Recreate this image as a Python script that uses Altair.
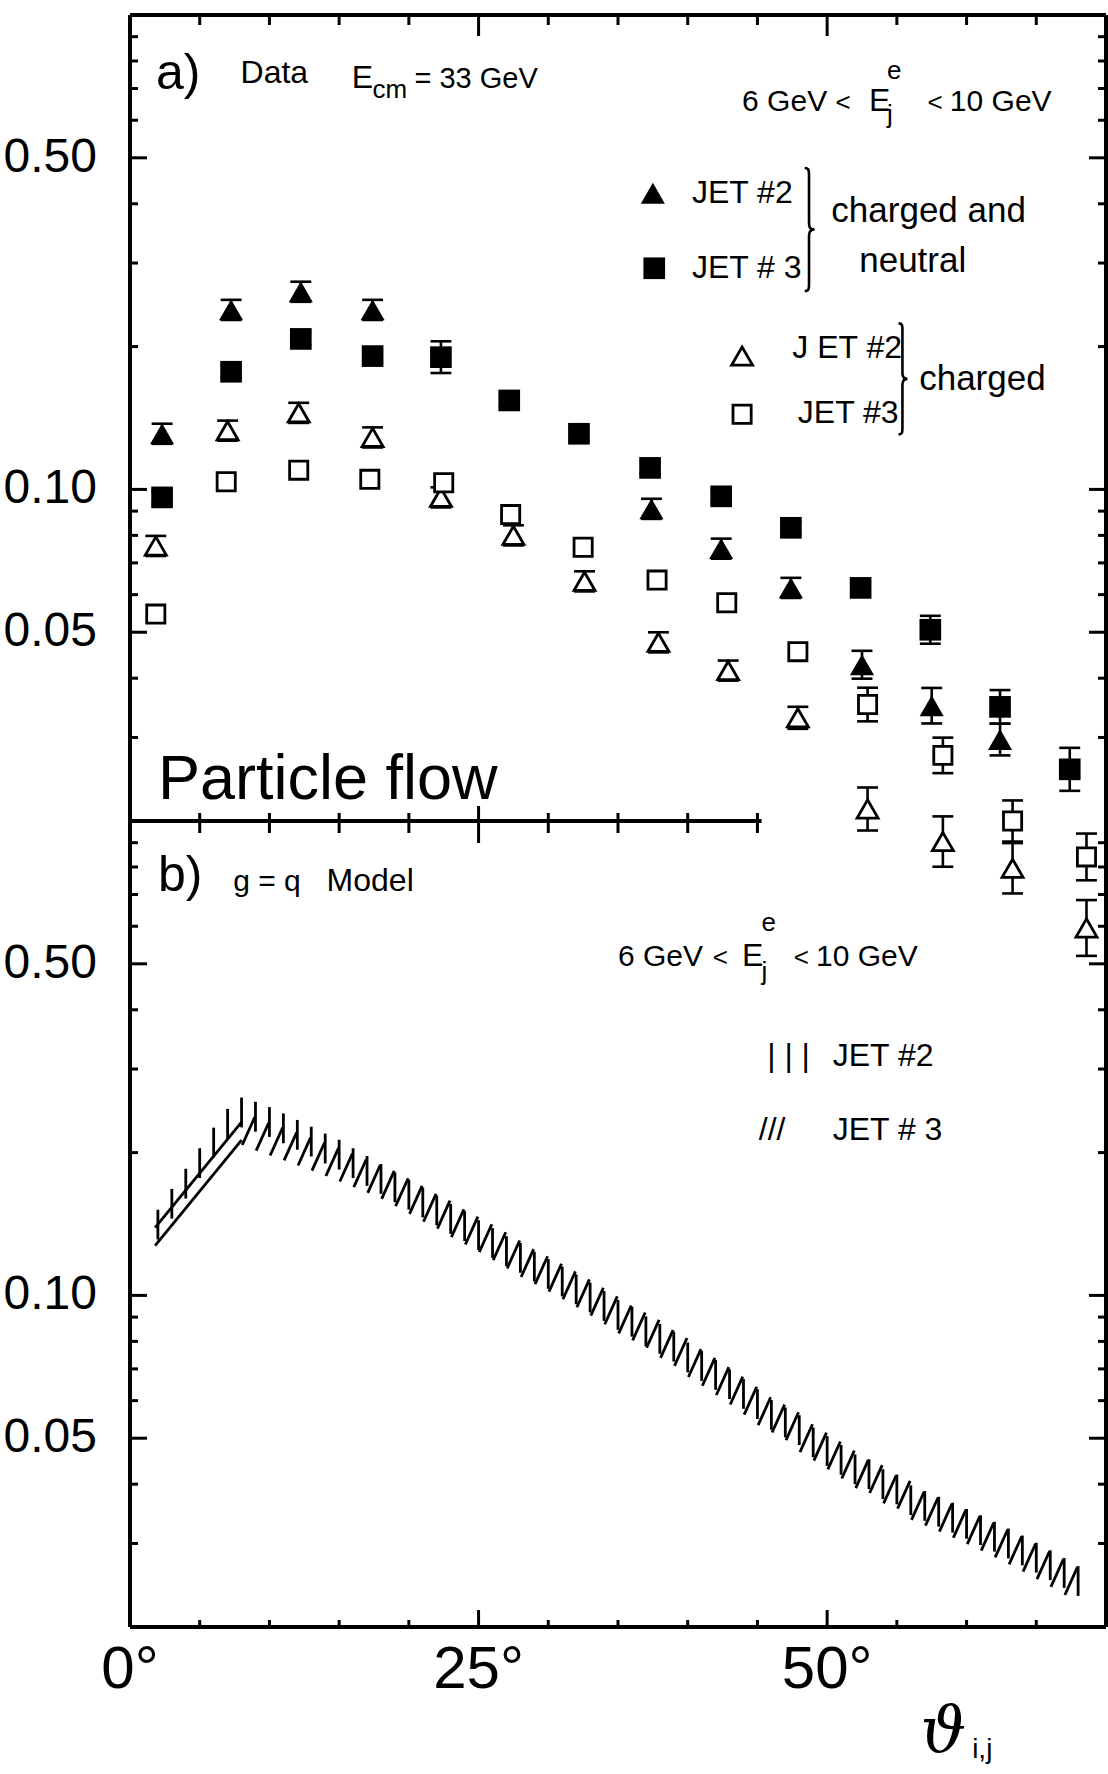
import altair as alt
import pandas as pd

FONT = "Liberation Sans, Arial, sans-serif"
SERIF = "DejaVu Serif, serif"

W, H = 976, 806
X_DOMAIN = [0, 70]
Y_DOMAIN = [0.02, 1.0]

# ---------------- panel a: measured particle flow ----------------
# charged and neutral particles
full_jet2_x = [2.3, 7.25, 12.25, 17.4, 37.4, 42.4, 47.4, 52.5, 57.5, 62.4]
full_jet2_y = [0.131, 0.239, 0.261, 0.239, 0.091, 0.075, 0.062, 0.0427, 0.035, 0.0297]
full_jet2_err = [0.05, 0.05, 0.05, 0.05, 0.05, 0.05, 0.05, 0.07, 0.09, 0.08]

full_jet3_x = [2.3, 7.25, 12.25, 17.4, 22.3, 27.2, 32.2, 37.3, 42.4, 47.4, 52.4, 57.4, 62.4, 67.4]
full_jet3_y = [0.0962, 0.177, 0.2076, 0.191, 0.190, 0.154, 0.131, 0.111, 0.0967, 0.083,
               0.062, 0.0506, 0.0348, 0.0257]
full_jet3_err = [0.03, 0.03, 0.03, 0.03, 0.08, 0.03, 0.03, 0.03, 0.03, 0.03, 0.03, 0.07, 0.085, 0.11]

# charged particles only
chg_jet2_x = [1.85, 7.0, 12.1, 17.4, 22.3, 27.5, 32.6, 37.9, 42.9, 47.9, 52.9, 58.3, 63.3, 68.6]
chg_jet2_y = [0.076, 0.133, 0.145, 0.1287, 0.0962, 0.080, 0.064, 0.0476, 0.0415, 0.033,
              0.0212, 0.0181, 0.0159, 0.0119]
chg_jet2_err = [0.05, 0.05, 0.05, 0.05, 0.05, 0.05, 0.05, 0.05, 0.05, 0.055, 0.11, 0.13, 0.13, 0.145]

chg_jet3_x = [1.85, 6.9, 12.1, 17.2, 22.5, 27.3, 32.5, 37.8, 42.8, 47.9, 52.9, 58.3, 63.3, 68.6]
chg_jet3_y = [0.0546, 0.1038, 0.1098, 0.105, 0.1033, 0.0885, 0.0755, 0.0644, 0.0577, 0.0455,
              0.0352, 0.0275, 0.020, 0.0168]
chg_jet3_err = [0, 0, 0, 0, 0, 0, 0, 0, 0, 0, 0.085, 0.09, 0.105, 0.12]

# ---------------- panel b: g = q model bands ----------------
model_jet2_x = list(range(2, 69))
model_jet2_y = [0.141, 0.156, 0.172, 0.190, 0.210, 0.230, 0.243, 0.238, 0.232, 0.225,
                0.218, 0.211, 0.204, 0.198, 0.190, 0.183, 0.176, 0.169, 0.163, 0.157,
                0.151, 0.145, 0.140, 0.134, 0.129, 0.124, 0.120, 0.115, 0.111, 0.107,
                0.103, 0.099, 0.095, 0.091, 0.088, 0.084, 0.081, 0.078, 0.074, 0.071,
                0.068, 0.065, 0.062, 0.059, 0.056, 0.054, 0.052, 0.049, 0.047, 0.045,
                0.043, 0.042, 0.040, 0.039, 0.037, 0.036, 0.035, 0.034, 0.033, 0.032,
                0.031, 0.030, 0.029, 0.028, 0.027, 0.026, 0.025]

model_jet3_y = [0.222, 0.216, 0.211, 0.206, 0.201, 0.196, 0.191, 0.186, 0.181, 0.176,
                0.171, 0.165, 0.159, 0.153, 0.148, 0.142, 0.137, 0.132, 0.127, 0.122,
                0.117, 0.113, 0.109, 0.105, 0.101, 0.097, 0.093, 0.089, 0.086, 0.083,
                0.079, 0.076, 0.072, 0.069, 0.066, 0.063, 0.060, 0.057, 0.055, 0.053,
                0.050, 0.048, 0.046, 0.044, 0.042, 0.041, 0.039, 0.038, 0.036, 0.035,
                0.034, 0.033, 0.032, 0.031, 0.030, 0.029, 0.028, 0.027, 0.026, 0.025]
model_jet3_x = [8.5 + i for i in range(len(model_jet3_y))]
model_jet3_rise_x = [1.8, 8.0]
model_jet3_rise_y = [0.133, 0.222]

# axis ticks and tick labels
ytick_major = [0.5, 0.1, 0.05]
ytick_labels = ["0.50", "0.10", "0.05"]
ytick_minor = [0.9, 0.8, 0.7, 0.6, 0.4, 0.3, 0.2, 0.09, 0.08, 0.07, 0.06, 0.04, 0.03]
xtick_major = [25, 50]
xtick_minor = [5, 10, 15, 20, 30, 35, 40, 45, 55, 60, 65]
xlabel_values = [0, 25, 50]
xlabel_texts = ["0°", "25°", "50°"]

xs = alt.Scale(domain=X_DOMAIN, nice=False, zero=False)
ys = alt.Scale(type="log", domain=Y_DOMAIN, nice=False)


def X(f):
    return alt.X(f, type="quantitative", scale=xs, axis=None)


def Y(f):
    return alt.Y(f, type="quantitative", scale=ys, axis=None)


def rule_layer(df, width=4.0):
    return alt.Chart(df).mark_rule(color="black", strokeWidth=width).encode(
        x=X("x"), x2="x2", y=Y("y"), y2="y2")


def text_layer(rows, font=FONT, baseline="alphabetic", align="left", style="normal"):
    df = pd.DataFrame(rows, columns=["x", "y", "t", "s"])
    return alt.Chart(df).mark_text(font=font, baseline=baseline, align=align,
                                   color="black", fontStyle=style).encode(
        x=X("x"), y=Y("y"), text="t:N", size=alt.Size("s:Q", scale=None, legend=None))


def y_ticks(right=False):
    layers = []
    for vals, ln in ((ytick_minor, 8), (ytick_major, 17)):
        df = pd.DataFrame({"v": vals})
        x0, x1 = (W, W - ln) if right else (0, ln)
        layers.append(alt.Chart(df).mark_rule(color="black", strokeWidth=3).encode(
            y=Y("v"), x=alt.value(x0), x2=alt.value(x1)))
    return layers


def x_ticks(vals, y0, y1):
    df = pd.DataFrame({"v": vals})
    return alt.Chart(df).mark_rule(color="black", strokeWidth=3).encode(
        x=X("v"), y=alt.value(y0), y2=alt.value(y1))


def y_labels():
    df = pd.DataFrame({"v": ytick_major, "t": ytick_labels})
    return alt.Chart(df).mark_text(font=FONT, fontSize=48, align="right", baseline="middle",
                                   color="black").encode(
        y=Y("v"), x=alt.value(-33), text="t:N")


def x_labels():
    df = pd.DataFrame({"v": xlabel_values, "t": xlabel_texts})
    return alt.Chart(df).mark_text(font=FONT, fontSize=60, align="center", baseline="top",
                                   color="black").encode(
        x=X("v"), y=alt.value(H + 14), text="t:N")


# ---------------- panel a layers ----------------
def errbar_frame(xv, yv, ev):
    rows = []
    for x, y, e in zip(xv, yv, ev):
        if e > 0:
            rows.append({"x": x, "lo": y / (1 + e), "hi": y * (1 + e),
                         "xl": x - 0.75, "xr": x + 0.75})
    return pd.DataFrame(rows)


err_df = pd.concat([
    errbar_frame(full_jet2_x, full_jet2_y, full_jet2_err),
    errbar_frame(full_jet3_x, full_jet3_y, full_jet3_err),
    errbar_frame(chg_jet2_x, chg_jet2_y, chg_jet2_err),
    errbar_frame(chg_jet3_x, chg_jet3_y, chg_jet3_err),
], ignore_index=True)

err_stem = alt.Chart(err_df).mark_rule(color="black", strokeWidth=2.6).encode(
    x=X("x"), y=Y("lo"), y2="hi")
err_cap_lo = alt.Chart(err_df).mark_rule(color="black", strokeWidth=2.6).encode(
    x=X("xl"), x2="xr", y=Y("lo"))
err_cap_hi = alt.Chart(err_df).mark_rule(color="black", strokeWidth=2.6).encode(
    x=X("xl"), x2="xr", y=Y("hi"))


def marker(xv, yv, shape, open_, size):
    df = pd.DataFrame({"x": xv, "y": yv})
    if open_:
        m = alt.Chart(df).mark_point(shape=shape, filled=True, fill="white", stroke="black",
                                     strokeWidth=2.8, size=size, opacity=1)
    else:
        m = alt.Chart(df).mark_point(shape=shape, filled=True, color="black", size=size,
                                     opacity=1)
    return m.encode(x=X("x"), y=Y("y"))


SIZE_TRI_FULL, SIZE_SQ_FULL, SIZE_TRI_OPEN, SIZE_SQ_OPEN = 580, 470, 440, 330

# legend symbols of panel a
leg_tri_full = marker([37.5], [0.421], "triangle-up", False, SIZE_TRI_FULL)
leg_sq_full = marker([37.6], [0.2925], "square", False, SIZE_SQ_FULL)
leg_tri_chg = marker([43.9], [0.191], "triangle-up", True, SIZE_TRI_OPEN)
leg_sq_chg = marker([43.9], [0.144], "square", True, SIZE_SQ_OPEN)

BRACE = ("M-0.07,-1 C0,-1 0,-0.96 0,-0.88 L0,-0.1 C0,-0.03 0.03,0 0.09,0 "
         "C0.03,0 0,0.03 0,0.1 L0,0.88 C0,0.96 0,1 -0.07,1")
brace_df = pd.DataFrame({"x": [48.7, 55.4], "y": [0.353, 0.171], "s": [123 ** 2, 111 ** 2]})
braces = alt.Chart(brace_df).mark_point(shape=BRACE, filled=False, stroke="black",
                                        strokeWidth=2.6, opacity=1).encode(
    x=X("x"), y=Y("y"), size=alt.Size("s:Q", scale=None, legend=None))

frame_a = rule_layer(pd.DataFrame({
    "x": [0, 0, 70, 0], "x2": [0, 70, 70, 45.3],
    "y": [0.02, 1.0, 0.02, 0.02], "y2": [1.0, 1.0, 1.0, 0.02]}))

texts_a = text_layer([
    (1.86, 0.698, "a)", 50),
    (7.93, 0.719, "Data", 32),
    (15.9, 0.701, "E", 32),
    (17.4, 0.668, "cm", 26),
    (20.4, 0.701, "= 33 GeV", 29),
    (43.9, 0.627, "6 GeV", 30),
    (50.6, 0.627, "<", 26),
    (53.0, 0.627, "E", 32),
    (54.3, 0.733, "e", 26),
    (54.3, 0.592, "j", 26),
    (57.2, 0.627, "<", 26),
    (58.8, 0.627, "10 GeV", 30),
])
legend_text_a = text_layer([
    (40.3, 0.421, "JET #2", 32),
    (40.3, 0.2925, "JET # 3", 32),
    (50.3, 0.386, "charged and", 35),
    (52.3, 0.303, "neutral", 35),
    (47.5, 0.199, "J ET #2", 32),
    (47.9, 0.145, "JET #3", 32),
    (56.6, 0.171, "charged", 35),
], baseline="middle")
title_text = text_layer([(2.0, 0.0223, "Particle flow", 63)])

# white spacer fixing the plot origin at 129 px from the left and 14 px from the top
spacer = alt.Chart(pd.DataFrame({"a": [0]})).mark_rule(color="white", strokeWidth=1).encode(
    x=alt.value(-129), x2=alt.value(-127), y=alt.value(-14), y2=alt.value(-14))

panel_a = alt.layer(
    spacer, frame_a, *y_ticks(), *y_ticks(right=True),
    x_ticks(xtick_minor, 0, 10), x_ticks(xtick_major, 0, 21),
    x_ticks([v for v in xtick_minor if v <= 45], H - 8, H + 12),
    x_ticks([25], H - 15, H + 22),
    y_labels(),
    err_stem, err_cap_lo, err_cap_hi,
    marker(full_jet2_x, full_jet2_y, "triangle-up", False, SIZE_TRI_FULL),
    marker(full_jet3_x, full_jet3_y, "square", False, SIZE_SQ_FULL),
    marker(chg_jet2_x, chg_jet2_y, "triangle-up", True, SIZE_TRI_OPEN),
    marker(chg_jet3_x, chg_jet3_y, "square", True, SIZE_SQ_OPEN),
    leg_tri_full, leg_sq_full, leg_tri_chg, leg_sq_chg, braces,
    texts_a, legend_text_a, title_text,
).properties(width=W, height=H)

# ---------------- panel b layers ----------------
frame_b = rule_layer(pd.DataFrame({
    "x": [0, 70, 0], "x2": [0, 70, 70],
    "y": [0.02, 0.02, 0.02], "y2": [1.0, 1.0, 0.02]}))

jet2_df = pd.DataFrame({"x": model_jet2_x, "y": model_jet2_y})
jet2_df["lo"] = jet2_df["y"] / 1.075
jet2_df["hi"] = jet2_df["y"] * 1.075
jet2_strokes = alt.Chart(jet2_df).mark_rule(color="black", strokeWidth=2.8).encode(
    x=X("x"), y=Y("lo"), y2="hi")

jet3_df = pd.DataFrame({"x": model_jet3_x, "y": model_jet3_y})
jet3_df["xa"] = jet3_df["x"] - 0.45
jet3_df["xb"] = jet3_df["x"] + 0.45
jet3_df["ya"] = jet3_df["y"] / 1.07
jet3_df["yb"] = jet3_df["y"] * 1.07
jet3_strokes = alt.Chart(jet3_df).mark_rule(color="black", strokeWidth=2.8).encode(
    x=X("xa"), x2="xb", y=Y("ya"), y2="yb")

rise_df = pd.DataFrame({
    "x": [model_jet3_rise_x[0]] * 2, "x2": [model_jet3_rise_x[1]] * 2,
    "y": [model_jet3_rise_y[0] * 1.045, model_jet3_rise_y[0] / 1.045],
    "y2": [model_jet3_rise_y[1] * 1.045, model_jet3_rise_y[1] / 1.045]})
jet3_rise = rule_layer(rise_df, width=2.8)

texts_b = text_layer([
    (2.0, 0.712, "b)", 50),
    (7.4, 0.712, "g = q", 30),
    (14.1, 0.712, "Model", 32),
    (35.0, 0.495, "6 GeV", 30),
    (41.8, 0.495, "<", 26),
    (43.9, 0.495, "E", 32),
    (45.3, 0.586, "e", 26),
    (45.3, 0.462, "j", 26),
    (47.6, 0.495, "<", 26),
    (49.2, 0.495, "10 GeV", 30),
    (60.4, 0.0106, "i,j", 28),
])
legend_text_b = text_layer([
    (45.7, 0.319, "| | |", 32),
    (50.4, 0.319, "JET #2", 32),
    (45.1, 0.223, "///", 32),
    (50.4, 0.223, "JET # 3", 32),
], baseline="middle")
theta_text = text_layer([(56.7, 0.01093, "ϑ", 64)], font=SERIF, style="italic")

panel_b = alt.layer(
    frame_b, *y_ticks(), *y_ticks(right=True),
    x_ticks(xtick_minor, H, H - 7), x_ticks(xtick_major, H, H - 17),
    y_labels(), x_labels(),
    jet3_rise, jet2_strokes, jet3_strokes,
    texts_b, legend_text_b, theta_text,
).properties(width=W, height=H)

chart = alt.vconcat(panel_a, panel_b, spacing=0, bounds="flush").properties(
    padding=0, background="white").configure_view(stroke=None)

chart.save("out.html", embed_options={"renderer": "svg", "actions": False})
